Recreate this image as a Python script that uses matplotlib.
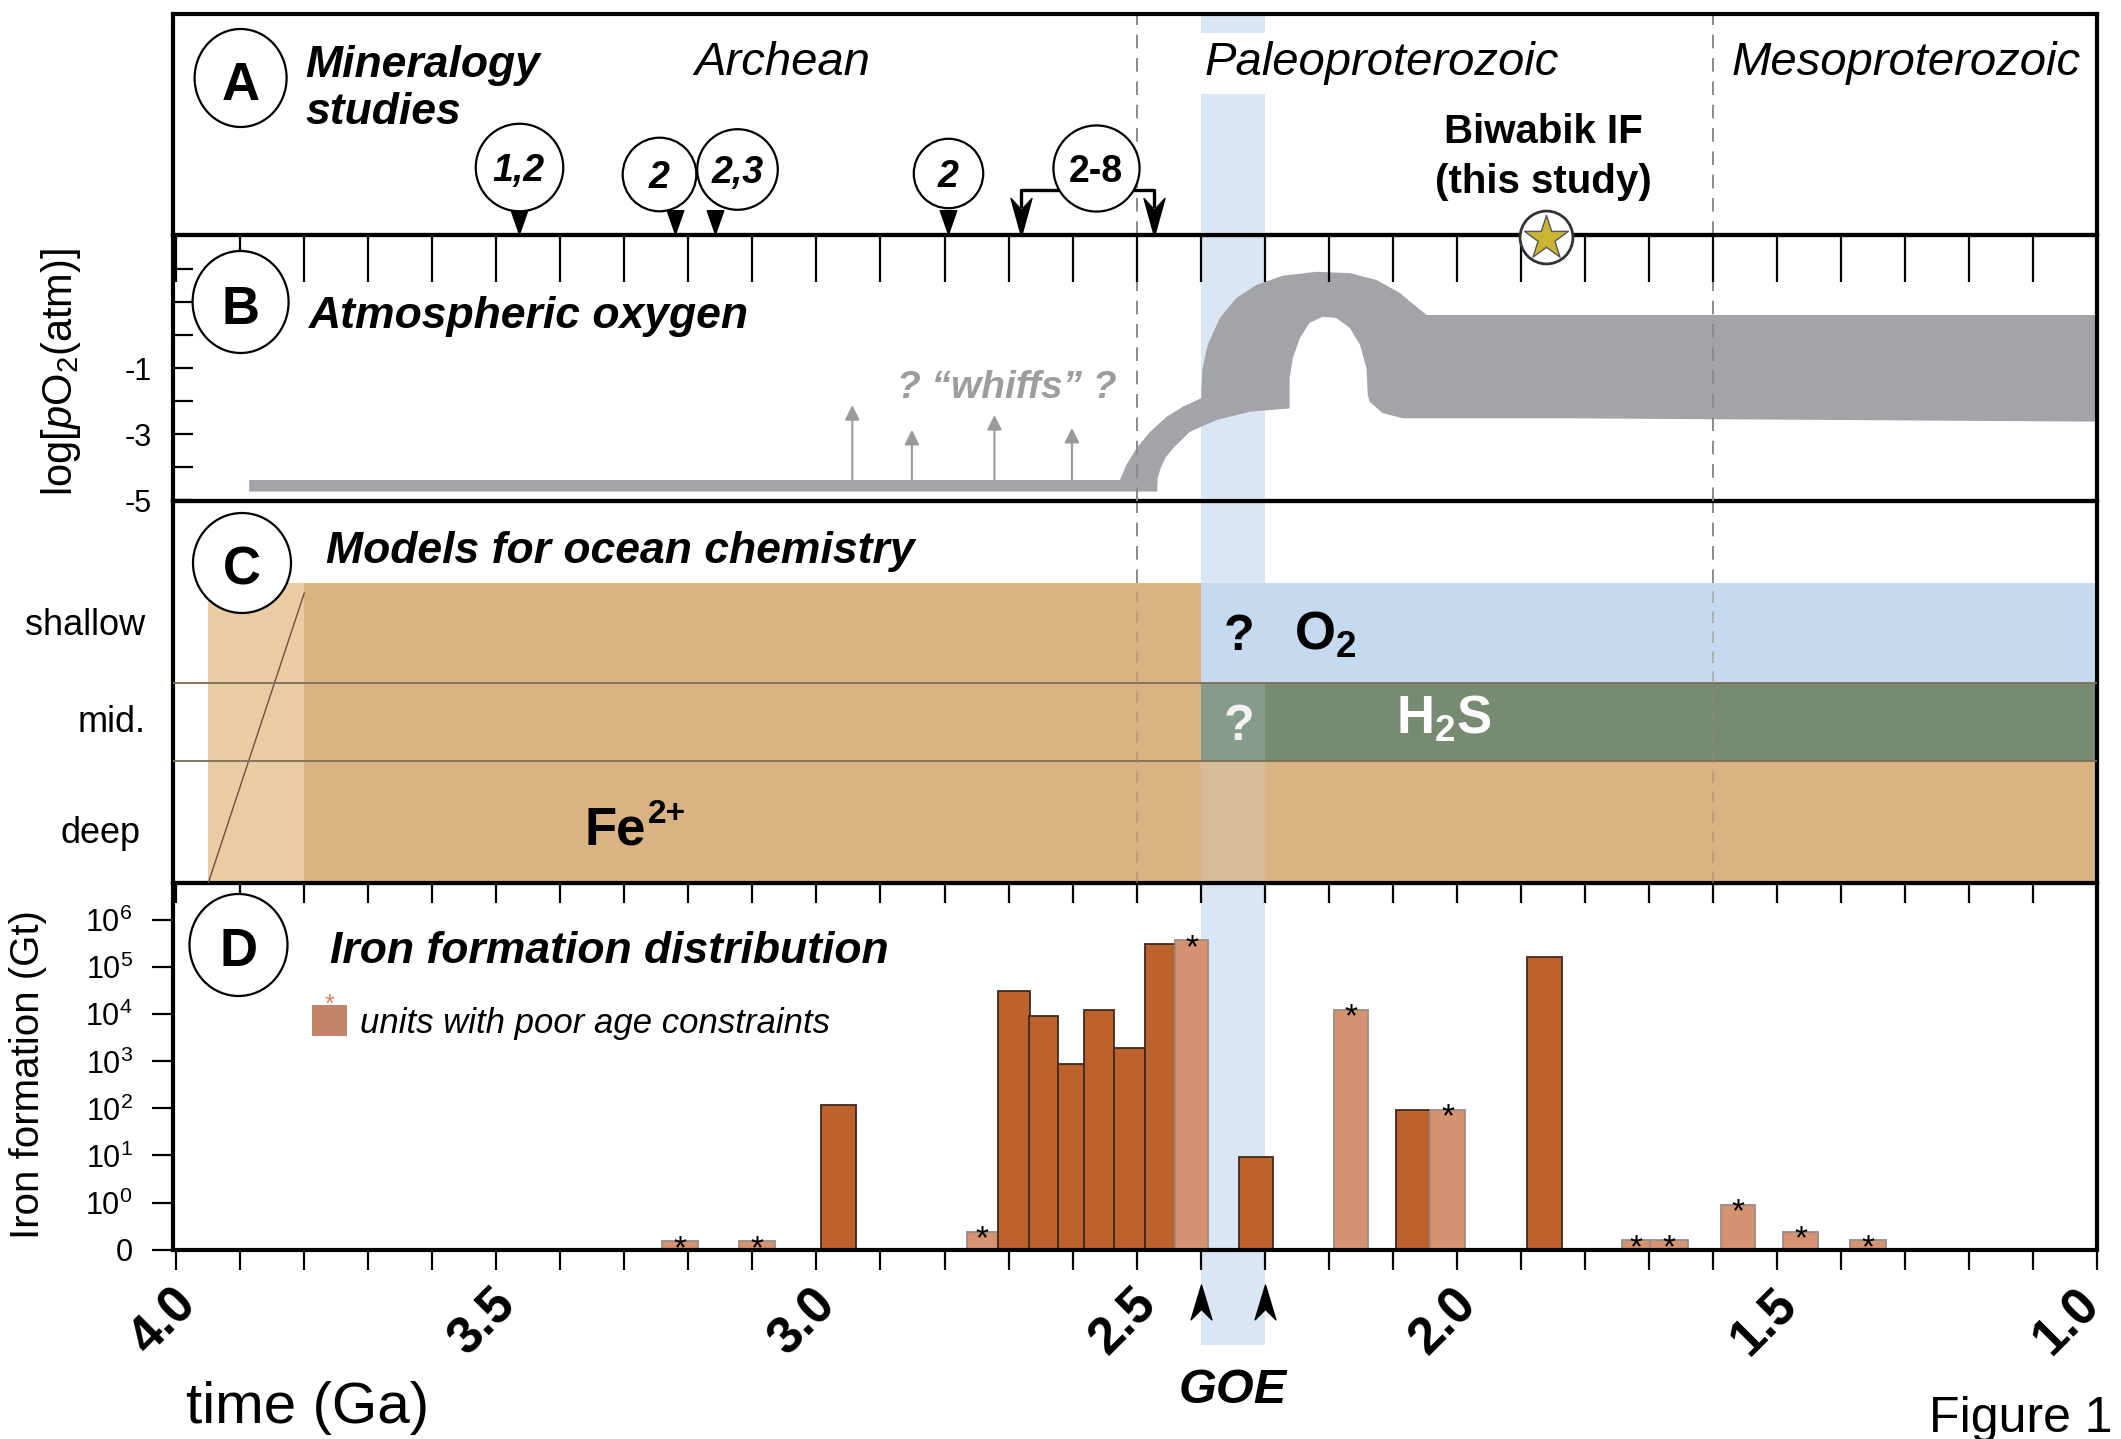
import numpy as np
import matplotlib.pyplot as plt
import matplotlib.transforms as mtransforms
from matplotlib.patches import Ellipse, Patch
from matplotlib.path import Path
from matplotlib.ticker import NullLocator

plt.rcParams['font.family'] = ['Liberation Sans', 'DejaVu Sans']
plt.rcParams['mathtext.fontset'] = 'custom'
plt.rcParams['mathtext.rm'] = 'Liberation Sans'
plt.rcParams['mathtext.it'] = 'Liberation Sans:italic'
plt.rcParams['mathtext.bf'] = 'Liberation Sans:bold'
plt.rcParams['mathtext.default'] = 'regular'

# --- datos ---
era_names = ['Archean', 'Paleoproterozoic', 'Mesoproterozoic']
era_bounds = [2.5, 1.6]
goe = [2.4, 2.3]
tick_ages = np.round(np.arange(1.0, 4.01, 0.1), 1)
label_ages = [4.0, 3.5, 3.0, 2.5, 2.0, 1.5, 1.0]

# A: mineralogy studies (age marked by each pointer)
study_labels = ['1,2', '2', '2,3', '2']
study_ages = [3.465, 3.221, 3.158, 2.794]
range_label = '2-8'
range_ages = [2.681, 2.473]
biwabik_age = 1.86

# B: atmospheric oxygen envelope, log pO2 (atm)
o2_top_age = [3.886, 2.526, 2.516, 2.500, 2.479, 2.453, 2.428, 2.399, 2.399, 2.397,
              2.389, 2.370, 2.344, 2.313, 2.272, 2.219, 2.167, 2.125, 2.089, 2.063,
              2.047, 1.0]
o2_top = [-4.38, -4.38, -3.92, -3.41, -2.92, -2.46, -2.16, -1.90, -1.70, -0.99,
          -0.29, 0.53, 1.14, 1.53, 1.81, 1.93, 1.89, 1.68, 1.29, 0.87,
          0.62, 0.62]
o2_bot_age = [3.886, 2.468, 2.467, 2.463, 2.455, 2.443, 2.417, 2.375, 2.323, 2.261,
              2.261, 2.261, 2.256, 2.245, 2.230, 2.209, 2.188, 2.167, 2.151, 2.141,
              2.139, 2.136, 2.116, 2.084, 1.823, 1.0]
o2_bot = [-4.73, -4.73, -4.32, -4.05, -3.70, -3.42, -2.92, -2.56, -2.31, -2.21,
          -1.80, -1.29, -0.68, -0.08, 0.38, 0.57, 0.53, 0.23, -0.29, -0.99,
          -1.80, -2.01, -2.35, -2.51, -2.51, -2.61]
whiff_ages = [2.944, 2.851, 2.722, 2.601]
whiff_tops = [-2.11, -2.86, -2.41, -2.80]

# C: ocean chemistry zones
layer_names = ['deep', 'mid.', 'shallow']
early_span = [3.95, 3.80]
zone_start = [3.80, 3.80, 3.80, 2.40, 2.40]
zone_end = [1.00, 2.40, 2.40, 1.00, 1.00]
zone_layer = [0, 1, 2, 1, 2]
zone_species = ['Fe', 'Fe', 'Fe', 'H2S', 'O2']

# D: iron formation tonnage (Gt), bins in Ga
if_age = [3.213, 3.093, 2.965, 2.741, 2.692, 2.645, 2.602, 2.559, 2.511, 2.464, 2.414,
          2.313, 2.165, 2.068, 2.014, 1.863, 1.720, 1.668, 1.560, 1.463, 1.357]
if_width = [0.055, 0.055, 0.055, 0.048, 0.050, 0.045, 0.040, 0.047, 0.048, 0.047, 0.052,
            0.053, 0.052, 0.053, 0.054, 0.054, 0.045, 0.059, 0.053, 0.056, 0.056]
if_gt = [0.15, 0.15, 120, 0.24, 3.2e4, 9.3e3, 900, 1.26e4, 1.95e3, 3.1e5, 3.8e5,
         9.5, 1.26e4, 93, 93, 1.67e5, 0.16, 0.16, 0.9, 0.24, 0.16]
if_poor = [True, True, False, True, False, False, False, False, False, False, True,
           False, True, False, True, False, True, True, True, True, True]

# --- estilos ---
TAN = '#D9B381'
EARLY = '#E9CCA4'
BLUE = '#C5D9EF'
GREEN = '#768B72'
BAND = '#DAE6F4'
GRAY = '#A2A4A8'
DARK = '#BE622D'
POOR = '#D69372'
ocean_colors = {'Fe': TAN, 'H2S': GREEN, 'O2': BLUE}

W, H = 2121, 1439
FL, FR = 173, 2097
Y_TOP, Y_AB, Y_BC, Y_CD, Y_BOT = 14, 235, 500.5, 883, 1249.6
XL, XR = 4.005, 1.0

fig = plt.figure(figsize=(W / 100, H / 100), dpi=100)


def box(y0, y1):
    return [FL / W, 1 - y1 / H, (FR - FL) / W, (y1 - y0) / H]


axD = fig.add_axes(box(Y_CD, Y_BOT))
axC = fig.add_axes(box(Y_BC, Y_CD))
axB = fig.add_axes(box(Y_AB, Y_BC))
axA = fig.add_axes(box(Y_TOP, Y_AB))
for ax in (axA, axB, axC, axD):
    ax.set_xlim(XL, XR)
    ax.set_facecolor('none')
    ax.set_xticks(tick_ages)
    for s in ax.spines.values():
        s.set_linewidth(3)


def ay(px):  # pixel row -> fraction of panel A
    return (Y_AB - px) / (Y_AB - Y_TOP)


# ---------- A ----------
axA.set_ylim(0, 1)
axA.tick_params(axis='x', direction='out', length=34, width=1.6, labelbottom=False)
axA.tick_params(axis='y', left=False, labelleft=False)
axA.axvspan(goe[0], goe[1], color=BAND, lw=0, zorder=0)
for b in era_bounds:
    axA.axvline(b, color='#8a8a8a', lw=1.4, dashes=(7, 5), zorder=1)

tri = Path([(0, -1), (0.7, 1), (-0.7, 1), (0, -1)], closed=True)
dart_dn = Path([(0, -1), (0.55, 1), (0, 0.4), (-0.55, 1), (0, -1)], closed=True)
dart_up = Path([(0, 1), (0.6, -1), (0, -0.4), (-0.6, -1), (0, 1)], closed=True)

bubble_dx = [0, -16, 22, 0]          # px shift of bubble from its pointer
bubble_y = [167, 174, 169, 173]
bubble_d = [63, 53, 58, 50]
for lab, age, dx, by, d in zip(study_labels, study_ages, bubble_dx, bubble_y, bubble_d):
    tr = mtransforms.offset_copy(axA.transData, fig=fig, x=dx, y=0, units='dots')
    axA.scatter([age], [ay(222)], marker=tri, s=290, color='k', zorder=3, clip_on=False)
    axA.scatter([age], [ay(by)], s=d ** 2, facecolor='white', edgecolor='k', lw=1.6,
                zorder=4, transform=tr, clip_on=False)
    axA.text(age, ay(by), lab, transform=tr, ha='center', va='center_baseline',
             fontsize=27, fontweight='bold', fontstyle='italic', zorder=5)

mid_age = np.mean(range_ages)
axA.plot([range_ages[0], range_ages[0], range_ages[1], range_ages[1]],
         [ay(206), ay(190), ay(190), ay(206)], color='k', lw=2.4, zorder=3)
axA.scatter(range_ages, [ay(217)] * 2, marker=dart_dn, s=750, color='k', zorder=3)
axA.scatter([mid_age - 0.013], [ay(168)], s=62 ** 2, facecolor='white', edgecolor='k',
            lw=1.6, zorder=4)
axA.text(mid_age - 0.013, ay(168), range_label, ha='center', va='center_baseline',
         fontsize=27, fontweight='bold', zorder=5)

axA.scatter([biwabik_age], [ay(237)], s=1450, facecolor='white', edgecolor='#333333',
            lw=2, zorder=6, clip_on=False)
axA.scatter([biwabik_age], [ay(238)], marker='*', s=1100, facecolor='#C9B532',
            edgecolor='#555555', lw=1, zorder=7, clip_on=False)
axA.text(biwabik_age + 0.005, ay(143), 'Biwabik IF', ha='center', va='baseline',
         fontsize=29, fontweight='bold')
axA.text(biwabik_age + 0.005, ay(193), '(this study)', ha='center', va='baseline',
         fontsize=29, fontweight='bold')

era_x = [3.054, 2.117, 1.298]
for name, x in zip(era_names, era_x):
    axA.text(x, ay(75), name, ha='center', va='baseline', fontsize=34, fontstyle='italic',
             zorder=2, bbox=dict(facecolor='white', edgecolor='none', pad=6))

# ---------- B ----------
axB.set_ylim(-5, 3.045)
axB.set_yticks(range(-5, 3))
axB.set_yticklabels(['-5', '', '-3', '', '-1', '', '', ''])
axB.tick_params(axis='y', direction='in', length=14.4, width=1.6, labelsize=22, pad=15)
axB.tick_params(axis='x', bottom=False, labelbottom=False)
axB.axvspan(goe[0], goe[1], color=BAND, lw=0, zorder=0)
axB.fill(np.r_[o2_top_age, o2_bot_age[::-1]], np.r_[o2_top, o2_bot[::-1]],
         color=GRAY, lw=0, zorder=2)
for a, t in zip(whiff_ages, whiff_tops):
    axB.annotate('', xy=(a, t), xytext=(a, o2_top[0]),
                 arrowprops=dict(arrowstyle='-|>', color='#9a9a9a', lw=1.5,
                                 mutation_scale=22, shrinkA=0, shrinkB=0), zorder=2)
axB.text(2.702, -1.9, '? \u201cwhiffs\u201d ?', ha='center', va='baseline', fontsize=28,
         fontweight='bold', fontstyle='italic', color='#9d9d9d')
for b in era_bounds:
    axB.axvline(b, color='#8a8a8a', lw=1.4, dashes=(7, 5), zorder=3)

# ---------- C ----------
LAYER_EDGES = [0.0, 0.319, 0.524, 0.784]
axC.set_ylim(0, 1)
axC.tick_params(axis='x', direction='out', length=14.4, width=1.6, labelbottom=False)
axC.tick_params(axis='y', left=False, labelleft=False)
axC.axvspan(goe[0], goe[1], color=BAND, lw=0, zorder=0)
axC.fill_between(early_span, 0, LAYER_EDGES[-1], color=EARLY, lw=0, zorder=1)
for s, e, li, sp in zip(zone_start, zone_end, zone_layer, zone_species):
    axC.fill_between([s, e], LAYER_EDGES[li], LAYER_EDGES[li + 1],
                     color=ocean_colors[sp], lw=0, zorder=1)
axC.axvspan(goe[0], goe[1], ymax=LAYER_EDGES[-1], color='#C8DCF4', alpha=0.2, lw=0, zorder=2)
axC.plot(early_span, [0, 0.758], color='#6b5040', lw=1, zorder=3)
for yv in LAYER_EDGES[1:3]:
    axC.axhline(yv, color='#7d6d58', lw=1.3, zorder=3)
for b in era_bounds:
    axC.axvline(b, ymax=LAYER_EDGES[-1], color='#9a8a72', lw=1.2, dashes=(7, 5),
                alpha=0.6, zorder=3)
    axC.axvline(b, ymin=LAYER_EDGES[-1], color='#8a8a8a', lw=1.4, dashes=(7, 5), zorder=3)

axC.text(3.295, 0.10, 'Fe', ha='right', va='baseline', fontsize=38, fontweight='bold',
         zorder=4, transform=mtransforms.offset_copy(axC.transData, fig=fig, x=18, y=0,
                                                     units='dots'))
axC.text(3.295, 0.10, '2+', ha='left', va='baseline', fontsize=24, fontweight='bold',
         zorder=4, transform=mtransforms.offset_copy(axC.transData, fig=fig, x=20, y=22,
                                                     units='dots'))
axC.text(2.34, 0.610, '?', ha='center', va='baseline', fontsize=36, fontweight='bold', zorder=4)
axC.text(2.205, 0.610, r'O$_{\mathbf{2}}$', ha='center', va='baseline', fontsize=38,
         fontweight='bold', zorder=4)
axC.text(2.34, 0.375, '?', ha='center', va='baseline', fontsize=36, fontweight='bold',
         color='#f2f2f2', zorder=4)
axC.text(2.02, 0.39, r'H$_{\mathbf{2}}$S', ha='center', va='baseline', fontsize=38,
         fontweight='bold', color='white', zorder=4)

# ---------- D ----------
BASE = 0.1
axD.set_yscale('log')
axD.set_ylim(BASE, 10 ** 6.79)
axD.set_yticks([BASE] + [10.0 ** k for k in range(7)])
axD.set_yticklabels(['0'] + [f'$10^{{{k}}}$' for k in range(7)])
axD.yaxis.set_minor_locator(NullLocator())
axD.tick_params(axis='y', direction='out', length=15, width=1.6, labelsize=22, pad=14)
axD.tick_params(axis='x', direction='out', length=14.4, width=1.6, labelbottom=False)
axD.axvspan(goe[0], goe[1], ymin=-0.26, ymax=1, color=BAND, lw=0, zorder=0, clip_on=False)

bar_colors = [POOR if p else DARK for p in if_poor]
bar_edges = ['#9a8c84' if p else '#3e2a1e' for p in if_poor]
axD.bar(if_age, np.array(if_gt) - BASE, width=if_width, bottom=BASE, color=bar_colors,
        edgecolor=bar_edges, linewidth=1.3, zorder=2)
for a, v, p in zip(if_age, if_gt, if_poor):
    if p:
        axD.annotate('*', (a, v), xytext=(0, -6), textcoords='offset points', ha='center',
                     va='center', fontsize=24, zorder=3)

axD.legend(handles=[Patch(facecolor='#C4846A', edgecolor='none')],
           labels=['units with poor age constraints'], loc='center left',
           bbox_to_anchor=(0.072, 0.6195), frameon=False,
           prop={'style': 'italic', 'size': 25}, handlelength=1.03, handleheight=1.0,
           handletextpad=0.37, borderpad=0, borderaxespad=0)
axD.text(0.0815, 0.668, '*', transform=axD.transAxes, ha='center', va='center',
         fontsize=18, color='#D9834F')

xb = mtransforms.blended_transform_factory(axD.transData, axD.transAxes)
for a in label_ages:
    dx = -13 if a > 1.0 else -30
    tr = mtransforms.offset_copy(xb, fig=fig, x=dx, y=0, units='dots')
    axD.text(a, -0.1975, f'{a:.1f}', transform=tr, rotation=45, ha='center',
             va='center', rotation_mode='anchor', fontsize=37, fontweight='bold',
             clip_on=False)
axD.scatter(goe, [-0.143, -0.143], marker=dart_up, s=625, color='k', transform=xb,
            clip_on=False, zorder=5)
axD.text(np.mean(goe), -0.418, 'GOE', transform=xb, ha='center', va='baseline',
         fontsize=35, fontweight='bold', fontstyle='italic')
axD.set_xlim(XL, XR)
axD.set_ylim(BASE, 10 ** 6.79)

# ---------- overlay: panel letters, titles, axis labels ----------
ov = fig.add_axes([0, 0, 1, 1])
ov.set_xlim(0, W)
ov.set_ylim(H, 0)
ov.axis('off')

letters = ['A', 'B', 'C', 'D']
letter_xy = [(240.6, 78), (240.6, 302), (242, 563), (238.5, 945)]
letter_wh = [(92, 98), (96, 102), (98, 100), (98, 102)]
for lt, (x, y), (w, h) in zip(letters, letter_xy, letter_wh):
    ov.add_patch(Ellipse((x, y), w, h, facecolor='white', edgecolor='k', lw=1.6))
    ov.text(x, y + 2, lt, ha='center', va='center_baseline', fontsize=38, fontweight='bold')

title_kw = dict(ha='left', va='baseline', fontsize=32, fontweight='bold', fontstyle='italic')
ov.text(305, 77, 'Mineralogy', **title_kw)
ov.text(305, 124, 'studies', **title_kw)
ov.text(309, 328, 'Atmospheric oxygen', **title_kw)
ov.text(326, 563, 'Models for ocean chemistry', **title_kw)
ov.text(330, 963, 'Iron formation distribution', **title_kw)

layer_xy = [(141, 843), (146, 732), (145, 635)]
for name, (x, y) in zip(layer_names, layer_xy):
    ov.text(x, y, name, ha='right', va='baseline', fontsize=26)

ov.text(61, 372, r'log[$\mathit{p}$O$_2$(atm)]', rotation=90, ha='center', va='center',
        fontsize=30)
ov.text(28, 1075, 'Iron formation (Gt)', rotation=90, ha='center', va='center', fontsize=29)
ov.text(186, 1423, 'time (Ga)', ha='left', va='baseline', fontsize=42)
ov.text(1929, 1432, 'Figure 1', ha='left', va='baseline', fontsize=36)

fig.savefig('out.png', dpi=100)
